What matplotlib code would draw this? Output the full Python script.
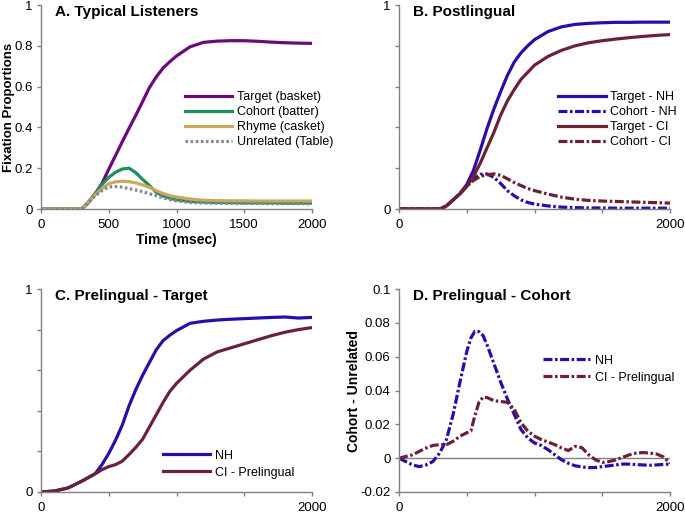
import numpy as np
import matplotlib
matplotlib.use("Agg")
import matplotlib.pyplot as plt
from matplotlib.ticker import FixedLocator, FixedFormatter

plt.rcParams['font.family'] = ['Liberation Sans', 'DejaVu Sans']
plt.rcParams['axes.unicode_minus'] = False

# ---- Panel A: typical listeners ----
t_a = [0, 300, 350, 400, 450, 500, 550, 600, 650, 700, 750, 800, 850, 900, 950,
       1000, 1100, 1200, 1300, 1400, 1500, 1600, 1700, 1800, 1900, 2000]
target_a = [0, 0, 0.03, 0.075, 0.125, 0.195, 0.262, 0.33, 0.396, 0.46, 0.527, 0.595, 0.647, 0.69, 0.722,
            0.75, 0.795, 0.817, 0.823, 0.825, 0.825, 0.822, 0.818, 0.815, 0.813, 0.812]
cohort_a = [0, 0, 0.035, 0.075, 0.12, 0.155, 0.18, 0.196, 0.2, 0.178, 0.145, 0.115, 0.082, 0.064, 0.053,
            0.045, 0.037, 0.034, 0.032, 0.031, 0.03, 0.03, 0.03, 0.029, 0.029, 0.029]
rhyme_a = [0, 0, 0.033, 0.07, 0.1, 0.124, 0.133, 0.136, 0.134, 0.128, 0.118, 0.106, 0.09, 0.076, 0.066,
           0.059, 0.049, 0.043, 0.041, 0.04, 0.04, 0.039, 0.039, 0.039, 0.039, 0.039]
unrel_a = [0, 0, 0.032, 0.065, 0.09, 0.108, 0.11, 0.107, 0.1, 0.093, 0.085, 0.075, 0.065, 0.055, 0.046,
           0.04, 0.032, 0.029, 0.028, 0.027, 0.027, 0.027, 0.026, 0.026, 0.026, 0.026]

# ---- Panel B: postlingual ----
t_b = t_a
target_nh_b = [0, 0, 0.015, 0.045, 0.075, 0.12, 0.19, 0.29, 0.395, 0.49, 0.575, 0.655, 0.72, 0.765, 0.8,
               0.83, 0.87, 0.893, 0.905, 0.91, 0.913, 0.915, 0.915, 0.916, 0.916, 0.916]
cohort_nh_b = [0, 0, 0.015, 0.045, 0.075, 0.115, 0.15, 0.17, 0.172, 0.155, 0.125, 0.09, 0.065, 0.045, 0.032,
               0.024, 0.015, 0.009, 0.007, 0.005, 0.005, 0.004, 0.004, 0.004, 0.004, 0.004]
target_ci_b = [0, 0, 0.015, 0.045, 0.075, 0.11, 0.16, 0.225, 0.3, 0.375, 0.46, 0.53, 0.585, 0.635, 0.67,
               0.705, 0.748, 0.778, 0.8, 0.815, 0.825, 0.833, 0.84, 0.846, 0.851, 0.855]
cohort_ci_b = [0, 0, 0.015, 0.045, 0.075, 0.11, 0.14, 0.16, 0.168, 0.172, 0.165, 0.148, 0.13, 0.115, 0.1,
               0.09, 0.073, 0.058, 0.048, 0.042, 0.039, 0.037, 0.035, 0.033, 0.031, 0.029]

# ---- Panel C: prelingual target ----
t_c = [0, 100, 200, 300, 400, 450, 500, 550, 600, 650, 700, 750, 800, 850, 900, 950,
       1000, 1100, 1200, 1300, 1400, 1500, 1600, 1700, 1800, 1900, 2000]
nh_c = [0, 0.005, 0.02, 0.053, 0.09, 0.135, 0.19, 0.255, 0.33, 0.425, 0.505, 0.575, 0.638, 0.7, 0.745, 0.772,
        0.795, 0.831, 0.841, 0.847, 0.851, 0.854, 0.857, 0.86, 0.862, 0.857, 0.86]
ci_c = [0, 0.005, 0.02, 0.053, 0.09, 0.11, 0.125, 0.135, 0.152, 0.185, 0.22, 0.26, 0.32, 0.38, 0.44, 0.495,
        0.535, 0.6, 0.655, 0.69, 0.71, 0.73, 0.75, 0.77, 0.787, 0.8, 0.81]

# ---- Panel D: prelingual cohort minus unrelated ----
t_d = [0, 50, 100, 150, 200, 250, 300, 350, 400, 450, 500, 530, 560, 590, 620, 650, 700, 750, 800, 850,
       900, 950, 1000, 1050, 1100, 1150, 1200, 1250, 1300, 1350, 1400, 1450, 1500, 1550, 1600, 1650,
       1700, 1750, 1800, 1850, 1900, 1950, 2000]
nh_d = [0, -0.002, -0.004, -0.005, -0.004, -0.002, 0.003, 0.011, 0.026, 0.045, 0.063, 0.071, 0.075, 0.0748,
        0.0725, 0.067, 0.056, 0.045, 0.035, 0.026, 0.017, 0.012, 0.009, 0.0075, 0.005, 0.002, -0.001, -0.003,
        -0.0045, -0.0052, -0.0056, -0.0055, -0.005, -0.0045, -0.004, -0.0035, -0.0035, -0.0038, -0.004,
        -0.0042, -0.004, -0.0037, -0.0035]
ci_d = [0, 0.001, 0.002, 0.004, 0.006, 0.0075, 0.008, 0.008, 0.01, 0.013, 0.015, 0.016, 0.025, 0.033, 0.036,
        0.0358, 0.034, 0.0335, 0.033, 0.029, 0.021, 0.016, 0.013, 0.011, 0.0095, 0.008, 0.006, 0.0045, 0.007,
        0.0062, 0.002, -0.001, -0.0025, -0.002, -0.001, 0.0005, 0.002, 0.003, 0.0033, 0.003, 0.0025, 0.0008,
        -0.003]

x_ticks = [0, 500, 1000, 1500, 2000]

PURPLE = '#6a0b7b'
GREEN = '#1f8d5c'
TAN = '#c9a95c'
GRAY = '#86868f'
BLUE = '#2c0ca9'
MAROON = '#6b2238'
AXC = '#808080'
LW = 2.3
DASHDOT = (2.8, 0.8, 0.8, 0.8)

fig = plt.figure(figsize=(6.85, 5.13), dpi=100)
W, H = 685, 513


def make_axes(left, top, right, bottom):
    return fig.add_axes([left / W, 1 - bottom / H, (right - left) / W, (bottom - top) / H])


ax_a = make_axes(41, 5, 312, 209)
ax_b = make_axes(399, 5, 670, 209)
ax_c = make_axes(41, 289, 312, 492)
ax_d = make_axes(399, 289, 670, 492)


def style(ax, ylo, yhi, ystep, ylabels_all, xlabels_all):
    ax.set_xlim(0, 2000)
    ax.set_ylim(ylo, yhi)
    for s in ['top', 'right']:
        ax.spines[s].set_visible(False)
    for s in ['left', 'bottom']:
        ax.spines[s].set_color(AXC)
        ax.spines[s].set_linewidth(1)
    ax.tick_params(direction='out', length=3, width=1, color=AXC, labelsize=9.5)
    ax.tick_params(axis='y', pad=3)
    ax.tick_params(axis='x', pad=4.5)
    ax.xaxis.set_major_locator(FixedLocator(x_ticks))
    if xlabels_all:
        ax.xaxis.set_major_formatter(FixedFormatter([str(v) for v in x_ticks]))
    else:
        ax.xaxis.set_major_formatter(FixedFormatter([str(v) if v in (0, 2000) else '' for v in x_ticks]))
    yt = list(np.round(np.arange(ylo, yhi + ystep / 2, ystep), 4))
    ax.yaxis.set_major_locator(FixedLocator(yt))
    if ylabels_all:
        ax.yaxis.set_major_formatter(FixedFormatter(['%g' % v for v in yt]))
    else:
        ax.yaxis.set_major_formatter(FixedFormatter(['%g' % v if v in (ylo, yhi) else '' for v in yt]))


def title(ax, txt):
    ax.text(0.052, 1.0, txt, transform=ax.transAxes, ha='left', va='top',
            fontsize=11, fontweight='bold')


def legend(ax, x, y, spacing):
    ax.legend(loc='upper left', bbox_to_anchor=(x, y), frameon=False, fontsize=9,
              handlelength=3.8, handletextpad=0.35, labelspacing=spacing, borderpad=0, borderaxespad=0)


# Panel A
ax_a.plot(t_a, target_a, color=PURPLE, lw=LW, label='Target (basket)')
ax_a.plot(t_a, cohort_a, color=GREEN, lw=LW, label='Cohort (batter)')
ax_a.plot(t_a, rhyme_a, color=TAN, lw=LW, label='Rhyme (casket)')
ax_a.plot(t_a, unrel_a, color=GRAY, lw=LW, dashes=(0.8, 0.8), label='Unrelated (Table)')
style(ax_a, 0, 1, 0.2, True, True)
ax_a.set_xlabel('Time (msec)', fontsize=10, fontweight='bold', labelpad=1)
ax_a.set_ylabel('Fixation Proportions', fontsize=9.5, fontweight='bold')
ax_a.yaxis.set_label_coords(-0.0955, 0.5)
title(ax_a, 'A. Typical Listeners')
legend(ax_a, 0.53, 0.578, 0.25)

# Panel B
ax_b.plot(t_b, target_nh_b, color=BLUE, lw=LW, label='Target - NH')
ax_b.plot(t_b, cohort_nh_b, color=BLUE, lw=LW, dashes=DASHDOT, label='Cohort - NH')
ax_b.plot(t_b, target_ci_b, color=MAROON, lw=LW, label='Target - CI')
ax_b.plot(t_b, cohort_ci_b, color=MAROON, lw=LW, dashes=DASHDOT, label='Cohort - CI')
style(ax_b, 0, 1, 0.2, False, False)
title(ax_b, 'B. Postlingual')
legend(ax_b, 0.587, 0.578, 0.25)

# Panel C
ax_c.plot(t_c, nh_c, color=BLUE, lw=LW, label='NH')
ax_c.plot(t_c, ci_c, color=MAROON, lw=LW, label='CI - Prelingual')
style(ax_c, 0, 1, 0.2, False, False)
title(ax_c, 'C. Prelingual - Target')
legend(ax_c, 0.45, 0.208, 0.4)

# Panel D
ax_d.axhline(0, color=AXC, lw=1, zorder=1)
ax_d.plot(t_d, nh_d, color=BLUE, lw=LW, dashes=DASHDOT, label='NH')
ax_d.plot(t_d, ci_d, color=MAROON, lw=LW, dashes=DASHDOT, label='CI - Prelingual')
style(ax_d, -0.02, 0.1, 0.02, True, False)
ax_d.set_ylabel('Cohort - Unrelated', fontsize=10, fontweight='bold')
ax_d.yaxis.set_label_coords(-0.142, 0.5)
title(ax_d, 'D. Prelingual - Cohort')
legend(ax_d, 0.531, 0.677, 0.4)

fig.savefig('out.png', dpi=100)
